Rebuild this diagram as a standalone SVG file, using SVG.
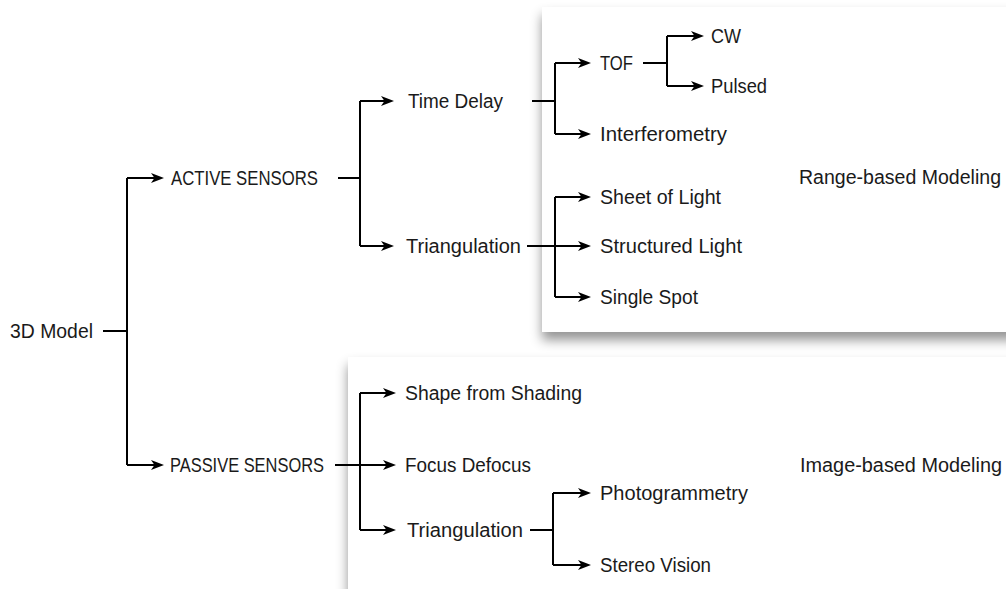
<svg xmlns="http://www.w3.org/2000/svg" width="1006" height="589" viewBox="0 0 1006 589">
<defs>
<style>
.t{font-family:"Liberation Sans",Arial,sans-serif;font-size:19.5px;fill:#1a1a1a}
.c path{fill:none;stroke:#000;stroke-width:2}
.c path.a{marker-end:url(#ah)}
.panel{fill:#fff;filter:url(#sh)}
</style>
<marker id="ah" markerUnits="userSpaceOnUse" viewBox="0 -6 14 12" markerWidth="14" markerHeight="12" refX="4" refY="0" orient="auto">
<path d="M0,-5 L13,0 L0,5 L3.5,0 Z" fill="#000" stroke="none"/>
</marker>
<filter id="sh" x="-10%" y="-10%" width="130%" height="130%">
<feDropShadow dx="0" dy="8" stdDeviation="6" flood-color="#000" flood-opacity="0.42"/>
</filter>
</defs>
<rect width="1006" height="589" fill="#fff"/>
<g id="panel-image">
<rect class="panel" x="348" y="357" width="720" height="300"/>
</g>
<g id="panel-range">
<rect class="panel" x="542" y="7" width="520" height="325"/>
</g>
<g class="c" id="connectors">
<path d="M103,331 H127"/>
<path d="M127,178 V465"/>
<path class="a" d="M127,178 H155"/>
<path class="a" d="M127,465 H155"/>
<path d="M338,178 H360"/>
<path d="M360,101 V246"/>
<path class="a" d="M360,101 H385"/>
<path class="a" d="M360,246 H385"/>
<path d="M532,101 H555"/>
<path d="M555,63 V134"/>
<path class="a" d="M555,63 H582"/>
<path class="a" d="M555,134 H582"/>
<path d="M643,63 H667"/>
<path d="M667,36 V86"/>
<path class="a" d="M667,36 H695"/>
<path class="a" d="M667,86 H695"/>
<path class="a" d="M527,246 H582"/>
<path d="M555,197 V297"/>
<path class="a" d="M555,197 H582"/>
<path class="a" d="M555,297 H582"/>
<path class="a" d="M335,465 H387"/>
<path d="M360,393 V530"/>
<path class="a" d="M360,393 H387"/>
<path class="a" d="M360,530 H387"/>
<path d="M530,530 H553"/>
<path d="M553,493 V565"/>
<path class="a" d="M553,493 H582"/>
<path class="a" d="M553,565 H582"/>
</g>
<g id="n-3dmodel"><text class="t" x="10" y="338" textLength="83" lengthAdjust="spacingAndGlyphs">3D Model</text></g>
<g id="n-active"><text class="t" x="171" y="185" textLength="147" lengthAdjust="spacingAndGlyphs">ACTIVE SENSORS</text></g>
<g id="n-passive"><text class="t" x="170" y="472" textLength="154" lengthAdjust="spacingAndGlyphs">PASSIVE SENSORS</text></g>
<g id="n-timedelay"><text class="t" x="408" y="108" textLength="95" lengthAdjust="spacingAndGlyphs">Time Delay</text></g>
<g id="n-triang-a"><text class="t" x="406" y="253" textLength="115" lengthAdjust="spacingAndGlyphs">Triangulation</text></g>
<g id="n-tof"><text class="t" x="600" y="70" textLength="33" lengthAdjust="spacingAndGlyphs">TOF</text></g>
<g id="n-cw"><text class="t" x="711" y="43" textLength="30" lengthAdjust="spacingAndGlyphs">CW</text></g>
<g id="n-pulsed"><text class="t" x="711" y="93" textLength="56" lengthAdjust="spacingAndGlyphs">Pulsed</text></g>
<g id="n-interf"><text class="t" x="600" y="141" textLength="127" lengthAdjust="spacingAndGlyphs">Interferometry</text></g>
<g id="n-sheet"><text class="t" x="600" y="204" textLength="121" lengthAdjust="spacingAndGlyphs">Sheet of Light</text></g>
<g id="n-struct"><text class="t" x="600" y="253" textLength="142" lengthAdjust="spacingAndGlyphs">Structured Light</text></g>
<g id="n-single"><text class="t" x="600" y="304" textLength="98" lengthAdjust="spacingAndGlyphs">Single Spot</text></g>
<g id="n-range"><text class="t" x="799" y="184" textLength="202" lengthAdjust="spacingAndGlyphs">Range-based Modeling</text></g>
<g id="n-shape"><text class="t" x="405" y="400" textLength="177" lengthAdjust="spacingAndGlyphs">Shape from Shading</text></g>
<g id="n-focus"><text class="t" x="405" y="472" textLength="126" lengthAdjust="spacingAndGlyphs">Focus Defocus</text></g>
<g id="n-triang-p"><text class="t" x="407" y="537" textLength="116" lengthAdjust="spacingAndGlyphs">Triangulation</text></g>
<g id="n-photo"><text class="t" x="600" y="500" textLength="148" lengthAdjust="spacingAndGlyphs">Photogrammetry</text></g>
<g id="n-stereo"><text class="t" x="600" y="572" textLength="111" lengthAdjust="spacingAndGlyphs">Stereo Vision</text></g>
<g id="n-image"><text class="t" x="800" y="472" textLength="202" lengthAdjust="spacingAndGlyphs">Image-based Modeling</text></g>
</svg>
